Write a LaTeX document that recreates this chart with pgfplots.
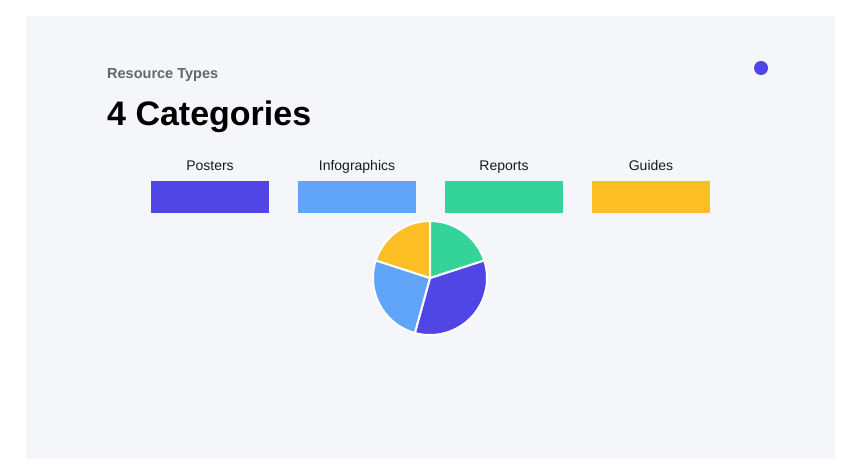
\documentclass[border=0pt]{standalone}
\usepackage{pgfplots}
\pgfplotsset{compat=1.18}
\usepackage{fontspec}
\setmainfont{Liberation Sans}
\definecolor{cardbg}{HTML}{F5F6FA}
\definecolor{cPost}{HTML}{4F46E5}
\definecolor{cInfo}{HTML}{60A5FA}
\definecolor{cRep}{HTML}{34D399}
\definecolor{cGuide}{HTML}{FBBF24}
\definecolor{subgray}{HTML}{666666}
\definecolor{labtxt}{HTML}{1A1A1A}

% Slice values (clockwise from the starting angle): Posters, Infographics, Guides, Reports
\def\pieTotal{35}
\xdef\pieStart{18}
\foreach \v [count=\i] in {12,9,7,7} {%
  \pgfmathsetmacro\sw{360*\v/\pieTotal}%
  \pgfmathsetmacro\st{\pieStart}%
  \edef\coords{(430,278)}%
  \foreach \k in {0,...,48} {%
    \pgfmathsetmacro\a{\st-\sw*\k/48}%
    \pgfmathsetmacro\px{430+57*cos(\a)}%
    \pgfmathsetmacro\py{278-57*sin(\a)}%
    \xdef\coords{\coords (\px,\py)}%
  }%
  \expandafter\xdef\csname slice\romannumeral\i\endcsname{\coords}%
  \pgfmathsetmacro\ns{\st-\sw}%
  \xdef\pieStart{\ns}%
}

\begin{document}
\begin{tikzpicture}
\begin{axis}[at={(0,0)}, anchor=south west, scale only axis,
  width=862pt, height=476pt, xmin=0, xmax=862, ymin=0, ymax=476,
  y dir=reverse, hide axis, clip=false]
  \fill[white] (0,0) rectangle (862,476);
  \fill[cardbg] (26,16) rectangle (835,459);
  % titles
  \node[anchor=base west, inner sep=0pt, text=subgray, font=\bfseries\fontsize{14.5}{17}\selectfont] at (107,79) {Resource Types};
  \node[anchor=base west, inner sep=0pt, text=black, font=\bfseries\fontsize{34}{40}\selectfont] at (107,125.7) {4 Categories};
  % decorative dot
  \fill[cPost] (761,68) circle[radius=7];
  % legend
  \fill[cPost]  (151,181) rectangle (269,213);
  \fill[cInfo]  (298,181) rectangle (416,213);
  \fill[cRep]   (445,181) rectangle (563,213);
  \fill[cGuide] (592,181) rectangle (710,213);
  \node[anchor=base, inner sep=0pt, text=labtxt, font=\fontsize{14}{16}\selectfont] at (210,170) {Posters};
  \node[anchor=base, inner sep=0pt, text=labtxt, font=\fontsize{14}{16}\selectfont] at (357,170) {Infographics};
  \node[anchor=base, inner sep=0pt, text=labtxt, font=\fontsize{14}{16}\selectfont] at (504,170) {Reports};
  \node[anchor=base, inner sep=0pt, text=labtxt, font=\fontsize{14}{16}\selectfont] at (651,170) {Guides};
  % pie
  \edef\tmp{\noexpand\addplot[fill=cPost, draw=white, line width=2pt, line join=round] coordinates {\slicei} -- cycle;}\tmp
  \edef\tmp{\noexpand\addplot[fill=cInfo, draw=white, line width=2pt, line join=round] coordinates {\sliceii} -- cycle;}\tmp
  \edef\tmp{\noexpand\addplot[fill=cGuide, draw=white, line width=2pt, line join=round] coordinates {\sliceiii} -- cycle;}\tmp
  \edef\tmp{\noexpand\addplot[fill=cRep, draw=white, line width=2pt, line join=round] coordinates {\sliceiv} -- cycle;}\tmp
\end{axis}
\end{tikzpicture}
\end{document}
